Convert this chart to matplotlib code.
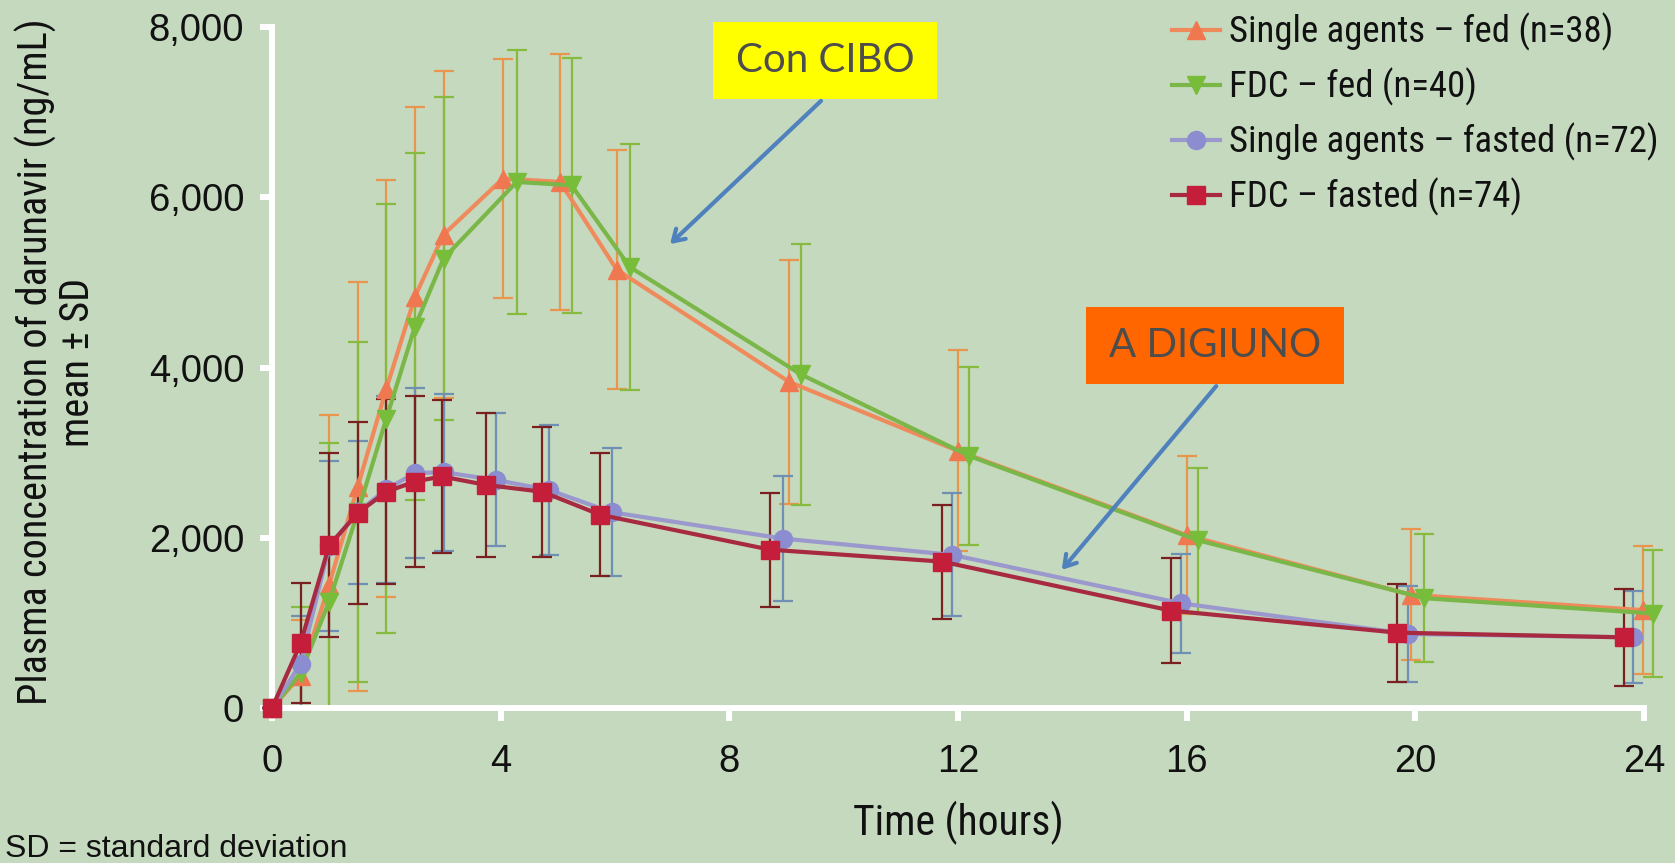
import numpy as np
import matplotlib
matplotlib.use("Agg")
import matplotlib.pyplot as plt
from matplotlib import font_manager
from matplotlib.patches import Rectangle, FancyArrowPatch

# --- data (hours, ng/mL) ---
series_labels = [
    "Single agents – fed (n=38)",
    "FDC – fed (n=40)",
    "Single agents – fasted (n=72)",
    "FDC – fasted (n=74)",
]

t_sa_fed = [0, 0.5, 1.0, 1.5, 2.0, 2.5, 3.0, 4.04, 5.04, 6.03, 9.05, 12.0, 16.0, 19.93, 23.99]
m_sa_fed = [0, 380, 1450, 2600, 3750, 4830, 5560, 6220, 6180, 5150, 3830, 3020, 2030, 1330, 1150]
sd_sa_fed = [0, 650, 1990, 2400, 2450, 2230, 1920, 1400, 1500, 1400, 1430, 1180, 930, 770, 750]

t_fdc_fed = [0, 0.5, 1.0, 1.5, 2.0, 2.5, 3.0, 4.28, 5.24, 6.26, 9.25, 12.2, 16.2, 20.16, 24.16]
m_fdc_fed = [0, 410, 1250, 2300, 3400, 4480, 5280, 6180, 6140, 5180, 3920, 2960, 1970, 1290, 1110]
sd_fdc_fed = [0, 780, 1860, 2000, 2520, 2040, 1900, 1550, 1500, 1450, 1530, 1050, 850, 750, 750]

t_sa_fast = [0, 0.5, 1.0, 1.5, 2.0, 2.5, 3.0, 3.91, 4.85, 5.94, 8.94, 11.89, 15.9, 19.87, 23.8]
m_sa_fast = [0, 520, 1900, 2300, 2570, 2760, 2770, 2680, 2560, 2300, 1990, 1800, 1230, 870, 830]
sd_sa_fast = [0, 560, 1000, 840, 1100, 1000, 920, 780, 760, 750, 730, 720, 580, 560, 540]

t_fdc_fast = [0, 0.5, 1.0, 1.5, 2.0, 2.5, 2.97, 3.75, 4.73, 5.74, 8.71, 11.72, 15.72, 19.68, 23.65]
m_fdc_fast = [0, 760, 1910, 2290, 2540, 2660, 2720, 2620, 2540, 2270, 1860, 1720, 1145, 885, 830]
sd_fdc_fast = [0, 705, 1080, 1070, 1085, 1000, 900, 850, 765, 720, 670, 670, 615, 575, 570]

x_ticks = [0, 4, 8, 12, 16, 20, 24]
y_ticks = [0, 2000, 4000, 6000, 8000]

# --- fonts ---
names = {f.name for f in font_manager.fontManager.ttflist}
narrow = "Liberation Sans"
for cand in ["Liberation Sans Narrow", "Roboto Condensed", "Open Sans Condensed"]:
    if cand in names:
        narrow = cand
        break
plain = "Liberation Sans"
boxfont = "Lato" if "Lato" in names else "Open Sans"

W, H = 1675, 863
bg = "#c5d9be"
fig = plt.figure(figsize=(W / 100, H / 100), dpi=100, facecolor=bg)
ax = fig.add_axes([272 / W, 1 - 708 / H, (1644 - 272) / W, (708 - 27) / H])
ax.set_facecolor(bg)

styles = [
    # line colour, marker, marker colour, errorbar colour
    ("#ef8a5c", "^", "#f07850", "#e8964e"),
    ("#7ab648", "v", "#78bd3a", "#86bb40"),
    ("#9a98cc", "o", "#8c8cd0", "#6f8fb3"),
    ("#a82a40", "s", "#c41e3a", "#7a2020"),
]
data = [
    (t_sa_fed, m_sa_fed, sd_sa_fed),
    (t_fdc_fed, m_fdc_fed, sd_fdc_fed),
    (t_sa_fast, m_sa_fast, sd_sa_fast),
    (t_fdc_fast, m_fdc_fast, sd_fdc_fast),
]

# error bars underneath everything
for (t, m, sd), (lc, mk, mc, ec) in zip(data, styles):
    m = np.array(m, float)
    sd = np.array(sd, float)
    lower = np.minimum(sd, m)
    ax.errorbar(t, m, yerr=[lower, sd], fmt="none", ecolor=ec, elinewidth=1.6,
                capsize=7, capthick=1.6, zorder=2, clip_on=False)

# lines + markers: fasted first, fed on top
handles = {}
for idx in [2, 3, 0, 1]:
    t, m, sd = data[idx]
    lc, mk, mc, ec = styles[idx]
    (ln,) = ax.plot(t, m, color=lc, lw=3, marker=mk, ms=13, mfc=mc, mec=mc,
                    label=series_labels[idx], zorder=4 + idx * 0.1, clip_on=False)
    handles[idx] = ln

ax.set_xlim(0, 24)
ax.set_ylim(0, 8000)
ax.set_xticks(x_ticks)
ax.set_yticks(y_ticks)
ax.set_yticklabels([f"{v:,}" for v in y_ticks])
for sp in ["top", "right"]:
    ax.spines[sp].set_visible(False)
for sp in ["left", "bottom"]:
    ax.spines[sp].set_color("white")
    ax.spines[sp].set_linewidth(4.3)
ax.tick_params(axis="both", direction="out", length=9, width=4.3, color="white",
               labelsize=27.5, labelcolor="#111111")
ax.tick_params(axis="y", pad=11)
ax.tick_params(axis="x", pad=17)
for lab in ax.get_xticklabels() + ax.get_yticklabels():
    lab.set_fontfamily(plain)

ax.set_xlabel("Time (hours)", fontsize=30, fontfamily=narrow, color="#111111")
ax.xaxis.set_label_coords(0.5, (708 - 823) / 681)
ax.xaxis.label.set_va("center")
ax.set_ylabel("Plasma concentration of darunavir (ng/mL)\nmean ± SD", fontsize=29,
              fontfamily=narrow, color="#111111", linespacing=1.05)
ax.yaxis.set_label_coords((56 - 272) / 1372, (708 - 362) / 681)
ax.yaxis.label.set_va("center")
ax.yaxis.label.set_ha("center")

leg = ax.legend([handles[i] for i in range(4)], series_labels, loc="upper left",
                bbox_to_anchor=(1172 / W, 1 - 13 / H), bbox_transform=fig.transFigure,
                frameon=False, fontsize=26.5, handlelength=1.3, handletextpad=0.25,
                labelspacing=0.45, borderpad=0, borderaxespad=0)
for txt in leg.get_texts():
    txt.set_fontfamily(narrow)
    txt.set_color("#111111")

fig.text(5 / W, 1 - 849 / H, "SD = standard deviation", fontsize=23,
         fontfamily=plain, color="#111111", va="center", ha="left")


def px(x, y):
    return (x / W, 1 - y / H)


# annotation boxes
for (x0, y0, x1, y1), fc, label in [
    ((713, 22, 937, 99), "#ffff00", "Con CIBO"),
    ((1086, 307, 1344, 384), "#ff6600", "A DIGIUNO"),
]:
    fig.add_artist(Rectangle(px(x0, y1), (x1 - x0) / W, (y1 - y0) / H,
                             transform=fig.transFigure, facecolor=fc,
                             edgecolor="none", zorder=10))
    fig.text(*px((x0 + x1) / 2, (y0 + y1) / 2), label, fontsize=29,
             fontfamily=boxfont, color="#4d4d4d", ha="center", va="center", zorder=11)

for start, end in [((823, 99), (668, 246)), ((1218, 384), (1060, 572))]:
    fig.add_artist(FancyArrowPatch(px(*start), px(*end), transform=fig.transFigure,
                                   arrowstyle="->,head_length=8,head_width=5",
                                   color="#4f81bd", lw=3, zorder=12))

fig.savefig("out.png", dpi=100, facecolor=bg)
